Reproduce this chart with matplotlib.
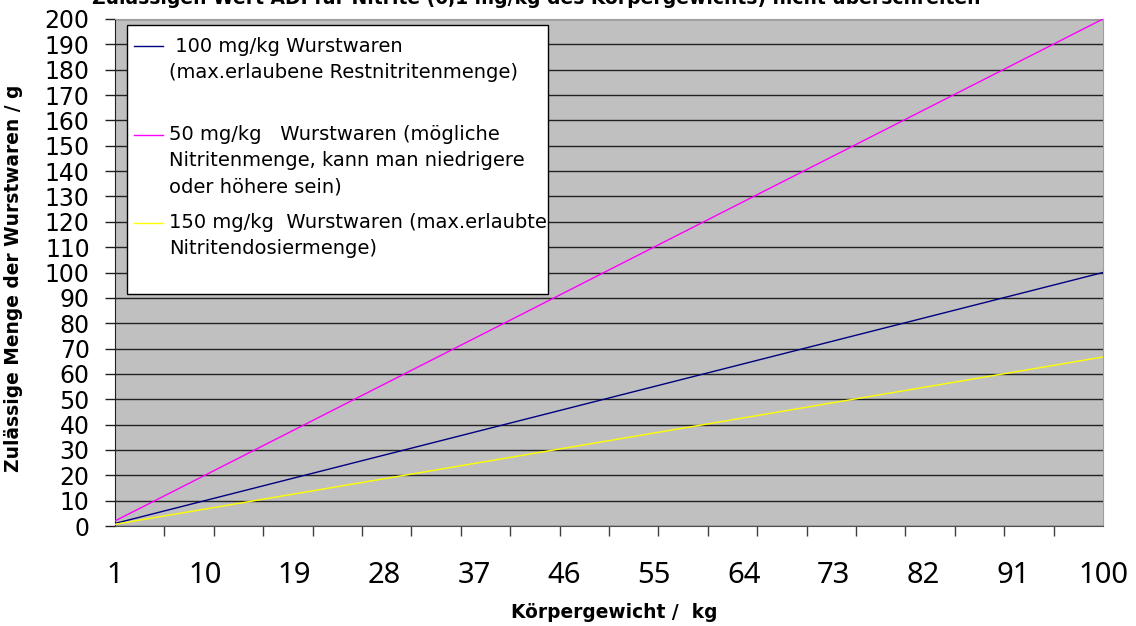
import numpy as np
import matplotlib
matplotlib.use("Agg")
import matplotlib.pyplot as plt
from matplotlib.patches import Rectangle
from matplotlib.lines import Line2D

plt.rcParams['font.family'] = ['Noto Sans', 'DejaVu Sans']

W, H = 1136, 626

# Körpergewicht (kg) - Kategorien
koerpergewicht = list(range(1, 101))

# zulässige Menge Wurstwaren (g) bei 100 mg/kg Nitrit
wurst_100 = [1, 2, 3, 4, 5, 6, 7, 8, 9, 10, 11, 12, 13, 14, 15, 16, 17, 18, 19, 20,
             21, 22, 23, 24, 25, 26, 27, 28, 29, 30, 31, 32, 33, 34, 35, 36, 37, 38, 39, 40,
             41, 42, 43, 44, 45, 46, 47, 48, 49, 50, 51, 52, 53, 54, 55, 56, 57, 58, 59, 60,
             61, 62, 63, 64, 65, 66, 67, 68, 69, 70, 71, 72, 73, 74, 75, 76, 77, 78, 79, 80,
             81, 82, 83, 84, 85, 86, 87, 88, 89, 90, 91, 92, 93, 94, 95, 96, 97, 98, 99, 100]

# bei 50 mg/kg
wurst_50 = [2, 4, 6, 8, 10, 12, 14, 16, 18, 20, 22, 24, 26, 28, 30, 32, 34, 36, 38, 40,
            42, 44, 46, 48, 50, 52, 54, 56, 58, 60, 62, 64, 66, 68, 70, 72, 74, 76, 78, 80,
            82, 84, 86, 88, 90, 92, 94, 96, 98, 100, 102, 104, 106, 108, 110, 112, 114, 116, 118, 120,
            122, 124, 126, 128, 130, 132, 134, 136, 138, 140, 142, 144, 146, 148, 150, 152, 154, 156, 158, 160,
            162, 164, 166, 168, 170, 172, 174, 176, 178, 180, 182, 184, 186, 188, 190, 192, 194, 196, 198, 200]

# bei 150 mg/kg
wurst_150 = [0.67, 1.33, 2, 2.67, 3.33, 4, 4.67, 5.33, 6, 6.67,
             7.33, 8, 8.67, 9.33, 10, 10.67, 11.33, 12, 12.67, 13.33,
             14, 14.67, 15.33, 16, 16.67, 17.33, 18, 18.67, 19.33, 20,
             20.67, 21.33, 22, 22.67, 23.33, 24, 24.67, 25.33, 26, 26.67,
             27.33, 28, 28.67, 29.33, 30, 30.67, 31.33, 32, 32.67, 33.33,
             34, 34.67, 35.33, 36, 36.67, 37.33, 38, 38.67, 39.33, 40,
             40.67, 41.33, 42, 42.67, 43.33, 44, 44.67, 45.33, 46, 46.67,
             47.33, 48, 48.67, 49.33, 50, 50.67, 51.33, 52, 52.67, 53.33,
             54, 54.67, 55.33, 56, 56.67, 57.33, 58, 58.67, 59.33, 60,
             60.67, 61.33, 62, 62.67, 63.33, 64, 64.67, 65.33, 66, 66.67]

x_ticklabels = [1, 10, 19, 28, 37, 46, 55, 64, 73, 82, 91, 100]
y_ticks = list(range(0, 201, 10))

legend_entries = [
    ("#000080", [" 100 mg/kg Wurstwaren", "(max.erlaubene Restnitritenmenge)"]),
    ("#FF00FF", ["50 mg/kg   Wurstwaren (mögliche", "Nitritenmenge, kann man niedrigere",
                 "oder höhere sein)"]),
    ("#FFFF00", ["150 mg/kg  Wurstwaren (max.erlaubte", "Nitritendosiermenge)"]),
]

title = "Zulässigen Wert ADI für Nitrite (0,1 mg/kg des Körpergewichts) nicht überschreiten"
bold_font = ["DejaVu Sans"]


def fx(x):
    return x / W


def fy(y):
    return 1 - y / H


fig = plt.figure(figsize=(W / 100, H / 100), dpi=100)
ax = fig.add_axes([fx(115), fy(526), 988 / W, 507 / H])
ax.set_facecolor("#C0C0C0")

ax.plot(koerpergewicht, wurst_100, color="#000080", lw=1.0, zorder=3)
ax.plot(koerpergewicht, wurst_50, color="#FF00FF", lw=1.0, zorder=3)
ax.plot(koerpergewicht, wurst_150, color="#FFFF00", lw=1.0, zorder=3)

ax.set_xlim(1, 100)
ax.set_ylim(0, 200)

ax.set_yticks(y_ticks)
ax.tick_params(axis="y", length=7.2, width=1, color="#202020", pad=11,
               labelsize=17)
for lbl in ax.get_yticklabels():
    lbl.set_family("DejaVu Sans")
ax.grid(axis="y", color="#222222", lw=1.0)

ax.set_xticks(x_ticklabels)
ax.set_xticklabels([str(v) for v in x_ticklabels])
ax.tick_params(axis="x", which="major", length=0, pad=25, labelsize=21)
ax.set_xticks(np.linspace(1, 100, 21), minor=True)
ax.tick_params(axis="x", which="minor", length=7.2, width=1, color="#404040")

ax.spines["top"].set_color("#A0A0A0")
ax.spines["right"].set_color("#A0A0A0")
ax.spines["left"].set_color("#202020")
ax.spines["bottom"].set_color("#505050")

# Legende
fig.add_artist(Rectangle((fx(127), fy(294)), 421 / W, 269 / H,
                         transform=fig.transFigure, facecolor="white",
                         edgecolor="black", lw=1, zorder=5))
line_y = [[46, 73], [135, 161, 187], [223, 249]]
for (color, lines), ys in zip(legend_entries, line_y):
    fig.add_artist(Line2D([fx(134), fx(163)], [fy(ys[0]), fy(ys[0])],
                          transform=fig.transFigure, color=color, lw=1, zorder=6))
    for text, y in zip(lines, ys):
        fig.text(fx(169), fy(y), text, ha="left", va="center", fontsize=14,
                 family="DejaVu Sans", zorder=6)

fig.text(fx(536), fy(4), title, ha="center", va="baseline", fontsize=13.5,
         fontweight="bold", family=bold_font)
fig.text(fx(614), fy(618), "Körpergewicht /  kg", ha="center", va="baseline",
         fontsize=13.4, fontweight="bold", family=bold_font)
fig.text(fx(14), fy(278), "Zulässige Menge der Wurstwaren / g", ha="center",
         va="center", rotation=90, fontsize=13.4, fontweight="bold",
         family=bold_font)

fig.savefig("out.png", dpi=100)
